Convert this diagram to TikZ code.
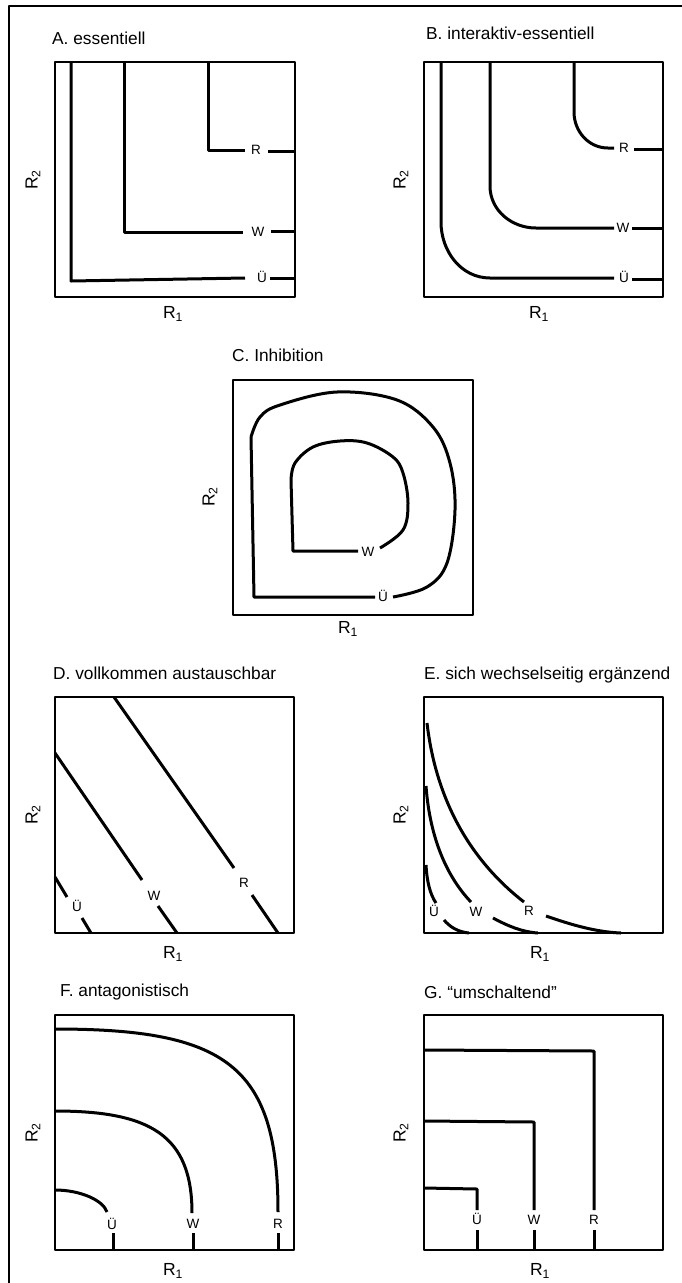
\documentclass[tikz,border=0pt]{standalone}
\usepackage{fontspec}
\setmainfont{Liberation Sans}
\begin{document}
\begin{tikzpicture}[x=1pt,y=-1pt,
  frame/.style={line width=1.8pt, line join=round},
  curve/.style={line width=3pt, line join=round},
  ttl/.style={anchor=west, font=\fontsize{17.3}{19}\selectfont, inner sep=0},
  lbl/.style={font=\fontsize{13.5}{15}\selectfont, inner sep=0},
  ax/.style={font=\fontsize{17.5}{19}\selectfont, inner sep=0}]
\useasboundingbox (0,0) rectangle (682,1283);
\draw[frame] (9,1283) -- (9,6) -- (682,6);

% ---------- A ----------
\draw[frame] (55,62) rectangle (295,297);
\node[ttl] (tA) at (52,38) {A. essentiell};
\node[ax,rotate=90] (yA) at (33,180) {R\textsubscript{2}};
\node[ax] (xA) at (173,314) {R\textsubscript{1}};
\draw[curve] (71,62) -- (71,281) -- (245,278);
\node[lbl] (aU) at (262,277) {Ü};
\draw[curve] (270,278) -- (295,278);
\draw[curve] (124,62) -- (124,232) -- (243,232);
\node[lbl] (aW) at (258,232) {W};
\draw[curve] (271,231) -- (295,231);
\draw[curve] (208,62) -- (208,150) -- (245,150);
\node[lbl] (aR) at (256,150) {R};
\draw[curve] (268,151) -- (295,151);

% ---------- B ----------
\draw[frame] (424,62) rectangle (663,297);
\node[ttl] (tB) at (426,33) {B. interaktiv-essentiell};
\node[ax,rotate=90] (yB) at (401,180) {R\textsubscript{2}};
\node[ax] (xB) at (539,314) {R\textsubscript{1}};
\draw[curve] (441,62) -- (441,222) to[out=-90,in=180] (490,278) -- (614,278);
\node[lbl] (bU) at (624,277) {Ü};
\draw[curve] (632,279) -- (663,279);
\draw[curve] (490,62) -- (490,186) to[out=-90,in=180] (536,228) -- (614,228);
\node[lbl] (bW) at (623,228) {W};
\draw[curve] (632,228) -- (663,228);
\draw[curve] (574,62) -- (574,112) to[out=-90,in=180] (608,148) -- (614,148);
\node[lbl] (bR) at (624,148) {R};
\draw[curve] (634,149) -- (663,149);

% ---------- C ----------
\draw[frame] (233,380) rectangle (473,615);
\node[ttl] (tC) at (232,355) {C. Inhibition};
\node[ax,rotate=90] (yC) at (210,497) {R\textsubscript{2}};
\node[ax] (xC) at (348,629) {R\textsubscript{1}};
\draw[curve] (375,597) -- (254,597) -- (251,437)
  plot[smooth,tension=0.6] coordinates {(251,437) (260,417) (280,405) (337,392) (397,400) (433,427) (450,463) (455,510) (447,563) (427,587) (393,597)};
\node[lbl] (cU) at (383,596) {Ü};
\draw[curve] (358,551) -- (293,551) -- (291,480)
  plot[smooth,tension=0.6] coordinates {(291,480) (295,463) (313,447) (340,441) (367,443) (393,457) (403,473) (408,503) (403,530) (380,548)};
\node[lbl] (cW) at (368,552) {W};

% ---------- D ----------
\draw[frame] (55,697) rectangle (294,933);
\node[ttl] (tD) at (53,673) {D. vollkommen austauschbar};
\node[ax,rotate=90] (yD) at (33,815) {R\textsubscript{2}};
\node[ax] (xD) at (173,954) {R\textsubscript{1}};
\draw[curve] (114,697) -- (234,868);
\node[lbl] (dR) at (244,883) {R};
\draw[curve] (252,895) -- (278,933);
\draw[curve] (55,753) -- (142,880);
\node[lbl] (dW) at (154,896) {W};
\draw[curve] (158,906) -- (177,933);
\draw[curve] (55,877) -- (67,897);
\node[lbl] (dU) at (77,906) {Ü};
\draw[curve] (82,918) -- (91,933);

% ---------- E ----------
\draw[frame] (424,697) rectangle (663,933);
\node[ttl] (tE) at (424,675) {E. sich wechselseitig ergänzend};
\node[ax,rotate=90] (yE) at (401,815) {R\textsubscript{2}};
\node[ax] (xE) at (540,954) {R\textsubscript{1}};
\draw[curve] (427,723) .. controls (436,800) and (470,860) .. (524,902);
\node[lbl] (eR) at (529,911) {R};
\draw[curve] (546,916) .. controls (572,925) and (596,932) .. (621,933);
\draw[curve] (426,786) .. controls (430,840) and (448,878) .. (471,902);
\node[lbl] (eW) at (476,912) {W};
\draw[curve] (493,918) .. controls (508,926) and (522,932) .. (538,933);
\draw[curve] (426,865) .. controls (427,882) and (430,894) .. (436,903);
\node[lbl] (eU) at (434,911) {Ü};
\draw[curve] (444,920) .. controls (450,927) and (458,932) .. (469,933);

% ---------- F ----------
\draw[frame] (55,1015) rectangle (294,1250);
\node[ttl] (tF) at (60,992) {F. antagonistisch};
\node[ax,rotate=90] (yF) at (33,1133) {R\textsubscript{2}};
\node[ax] (xF) at (173,1271) {R\textsubscript{1}};
\draw[curve] (55,1029) .. controls (225,1029) and (278,1065) .. (278,1212);
\node[lbl] (fR) at (278,1224) {R};
\draw[curve] (278,1233) -- (278,1250);
\draw[curve] (55,1111) .. controls (150,1111) and (192,1135) .. (192,1213);
\node[lbl] (fW) at (193,1224) {W};
\draw[curve] (193,1233) -- (193,1250);
\draw[curve] (55,1190) .. controls (80,1190) and (103,1200) .. (107,1212);
\node[lbl] (fU) at (112,1224) {Ü};
\draw[curve] (113,1233) -- (113,1250);

% ---------- G ----------
\draw[frame] (424,1015) rectangle (663,1250);
\node[ttl] (tG) at (424,992) {G. “umschaltend”};
\node[ax,rotate=90] (yG) at (401,1133) {R\textsubscript{2}};
\node[ax] (xG) at (540,1271) {R\textsubscript{1}};
\draw[curve] (424,1050) -- (594,1051) -- (594,1210);
\node[lbl] (gR) at (594,1220) {R};
\draw[curve] (594,1230) -- (594,1250);
\draw[curve] (424,1121) -- (534,1122) -- (534,1210);
\node[lbl] (gW) at (534,1220) {W};
\draw[curve] (534,1230) -- (534,1250);
\draw[curve] (424,1188) -- (477,1189) -- (477,1210);
\node[lbl] (gU) at (477,1219) {Ü};
\draw[curve] (477,1230) -- (477,1250);
\end{tikzpicture}
\end{document}
